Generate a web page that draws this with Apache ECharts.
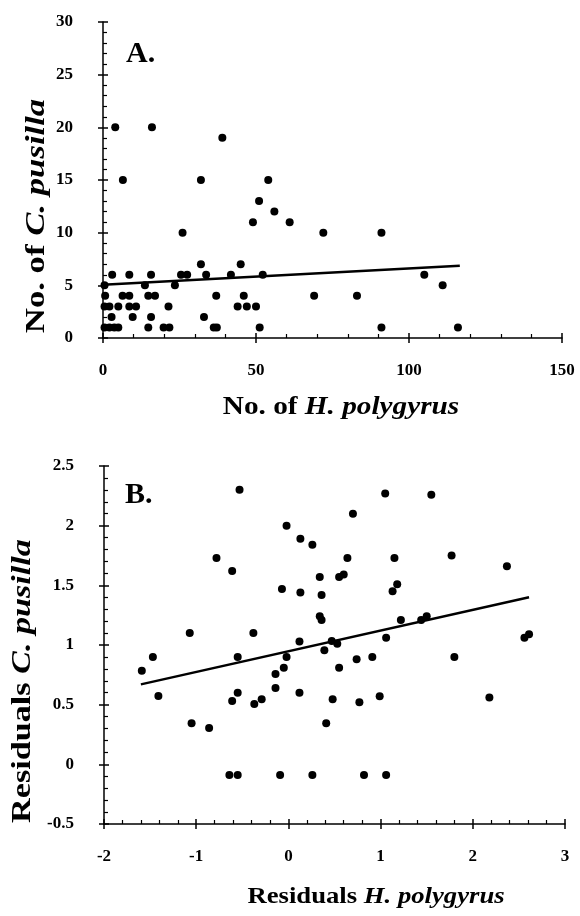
<!DOCTYPE html>
<html>
<head>
<meta charset="utf-8">
<script src="https://cdn.jsdelivr.net/npm/echarts@6/dist/echarts.min.js"></script>
<style>
html,body{margin:0;padding:0;background:#fff;}
#c{width:580px;height:916px;}
</style>
</head>
<body>
<div id="c"></div>
<script>
// Panel A: No. of H. polygyrus (x) vs No. of C. pusilla (y)
const aX = [4,16,39,6.5,32,54,51,56,49,61,26,72,91,32,45,
  3,8.6,15.7,25.5,27.5,33.7,41.8,52.2,105,
  0.5,13.7,23.5,111,
  0.7,6.4,8.6,14.8,17,37,46,69,83,
  0.5,2.1,5,8.6,10.8,21.4,44,47,50,
  2.8,9.7,15.7,33,
  0.5,2.1,3.7,5,14.8,19.8,21.7,36.2,37.2,51.2,91,116];
const aY = [20,20,19,15,15,15,13,12,11,11,10,10,10,7,7,
  6,6,6,6,6,6,6,6,6,
  5,5,5,5,
  4,4,4,4,4,4,4,4,4,
  3,3,3,3,3,3,3,3,3,
  2,2,2,2,
  1,1,1,1,1,1,1,1,1,1,1,1];
const aLineX = [0, 116.6];
const aLineY = [5.06, 6.87];

// Panel B: Residuals H. polygyrus (x) vs Residuals C. pusilla (y)
const bX = [-0.53,-0.02,0.13,0.26,-0.78,-0.61,0.34,-0.07,0.13,0.36,0.34,0.36,-1.07,-0.38,0.12,
  -1.47,-0.55,-0.02,0.39,-1.59,-0.05,-0.14,-1.41,-0.14,-0.55,0.12,-0.61,-0.29,-0.37,-1.05,
  -0.86,0.41,-0.64,-0.55,-0.09,0.26,0.47,0.48,1.05,1.55,0.70,0.64,1.15,1.77,2.37,
  0.55,0.60,1.18,1.13,1.22,1.44,1.50,0.53,1.06,2.56,2.61,0.74,0.91,1.80,0.55,
  0.77,0.99,2.18,0.82,1.06];
const bY = [2.30,2.00,1.89,1.84,1.73,1.62,1.57,1.47,1.44,1.42,1.24,1.21,1.10,1.10,1.03,
  0.90,0.90,0.90,0.955,0.785,0.81,0.757,0.573,0.64,0.60,0.60,0.53,0.545,0.506,0.344,
  0.304,0.344,-0.09,-0.09,-0.09,-0.09,1.034,0.545,2.27,2.26,2.10,1.73,1.73,1.75,1.66,
  1.57,1.59,1.51,1.45,1.21,1.21,1.24,1.01,1.06,1.06,1.09,0.88,0.90,0.90,0.81,
  0.52,0.57,0.56,-0.09,-0.09];
const bLineX = [-1.6, 2.61];
const bLineY = [0.67, 1.40];

const xTicksA = [0, 150, 50];
const yTicksA = [0, 30, 5];
const xTicksB = [-2, 3, 1];
const yTicksB = [-0.5, 2.5, 0.5];

const FONT = '"Liberation Serif","Times New Roman",serif';
const pairs = (xs, ys) => xs.map((x, i) => [x, ys[i]]);

function axisPair(gridIndex, t, isY, margin) {
  const base = {
    type: 'value', gridIndex, min: t[0], max: t[1], interval: t[2],
    position: isY ? 'left' : 'bottom', offset: 0,
    splitLine: {show: false}
  };
  const primary = Object.assign({}, base, {
    axisLine: {show: true, onZero: false, lineStyle: {color: '#000', width: 1.5}},
    axisTick: {show: true, inside: true, length: 5, lineStyle: {color: '#000', width: 1.5}},
    minorTick: {show: true, splitNumber: 5, length: 4, lineStyle: {color: '#000', width: 1.2}},
    axisLabel: {show: true, margin: margin, color: '#000', fontFamily: FONT, fontWeight: 'bold', fontSize: 17}
  });
  const secondary = Object.assign({}, base, {
    axisLine: {show: false, onZero: false},
    axisTick: {show: true, inside: false, length: 5, lineStyle: {color: '#000', width: 1.5}},
    minorTick: {show: false},
    axisLabel: {show: false}
  });
  return [primary, secondary];
}

const chart = echarts.init(document.getElementById('c'), null, {renderer: 'canvas'});
const rich = (sz) => ({
  b: {fontFamily: FONT, fontWeight: 'bold', fontSize: sz, fill: '#000', color: '#000'},
  i: {fontFamily: FONT, fontWeight: 'bold', fontStyle: 'italic', fontSize: sz, fill: '#000', color: '#000'}
});
const title = (x, y, rot, sx, text, sz) => ({
  type: 'text', x: x, y: y, rotation: rot, scaleX: sx, scaleY: 1, silent: true,
  style: {text: text, rich: rich(sz), align: 'center', verticalAlign: 'middle', fill: '#000'}
});

chart.setOption({
  animation: false,
  backgroundColor: '#fff',
  grid: [
    {left: 103, top: 22, width: 459, height: 316},
    {left: 104, top: 466, width: 461, height: 358}
  ],
  xAxis: [...axisPair(0, xTicksA, false, 24), ...axisPair(1, xTicksB, false, 24)],
  yAxis: [...axisPair(0, yTicksA, true, 30), ...axisPair(1, yTicksB, true, 30)],
  series: [
    {type: 'scatter', xAxisIndex: 0, yAxisIndex: 0, data: pairs(aX, aY), symbolSize: 8,
     itemStyle: {color: '#000', opacity: 1}},
    {type: 'line', xAxisIndex: 0, yAxisIndex: 0, data: pairs(aLineX, aLineY), symbol: 'none',
     lineStyle: {color: '#000', width: 2.5}},
    {type: 'scatter', xAxisIndex: 2, yAxisIndex: 2, data: pairs(bX, bY), symbolSize: 8,
     itemStyle: {color: '#000', opacity: 1}},
    {type: 'line', xAxisIndex: 2, yAxisIndex: 2, data: pairs(bLineX, bLineY), symbol: 'none',
     lineStyle: {color: '#000', width: 2.5}}
  ],
  graphic: [
    title(37, 216, Math.PI / 2, 1.24, '{b|No. of }{i|C. pusilla}', 28),
    title(341, 408, 0, 1.17, '{b|No. of }{i|H. polygyrus}', 25),
    title(23, 681, Math.PI / 2, 1.22, '{b|Residuals }{i|C. pusilla}', 28),
    title(376, 897, 0, 1.16, '{b|Residuals }{i|H. polygyrus}', 23),
    {type: 'text', x: 126, y: 54, silent: true,
     style: {text: 'A.', font: 'bold 30px ' + FONT, fill: '#000', align: 'left', verticalAlign: 'middle'}},
    {type: 'text', x: 125, y: 495, silent: true,
     style: {text: 'B.', font: 'bold 30px ' + FONT, fill: '#000', align: 'left', verticalAlign: 'middle'}}
  ]
});
</script>
</body>
</html>
